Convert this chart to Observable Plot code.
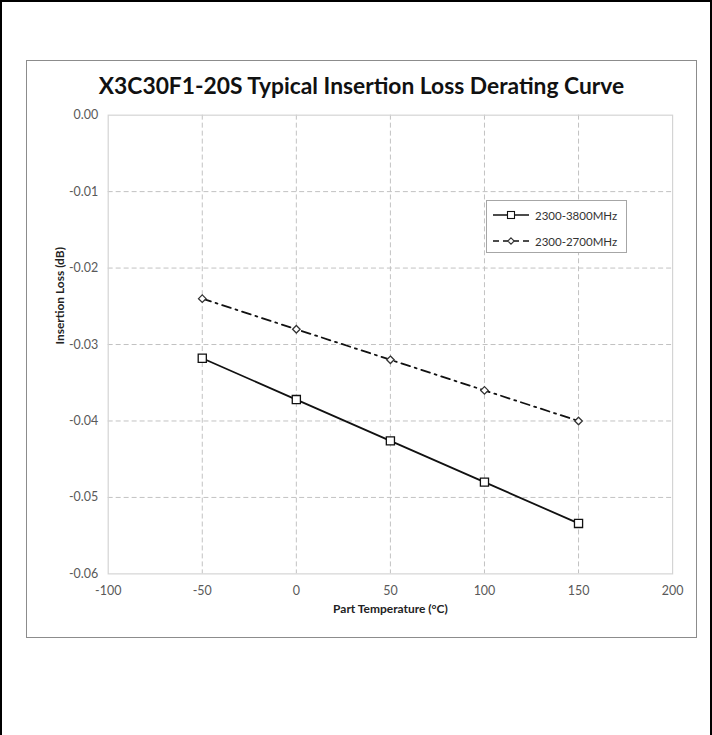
<!DOCTYPE html>
<html>
<head>
<meta charset="utf-8">
<script src="https://cdn.jsdelivr.net/npm/d3@7"></script>
<script src="https://cdn.jsdelivr.net/npm/@observablehq/plot@0.6"></script>
<style>
  html, body { margin: 0; padding: 0; background: #fff; }
  #page { position: relative; width: 712px; height: 735px; box-sizing: border-box;
          border-top: 2px solid #000; border-left: 2px solid #000; border-right: 2px solid #000; overflow: hidden; }
  #box { position: absolute; left: 24px; top: 58px; width: 671px; height: 578px; box-sizing: border-box;
         border: 1px solid #8c8c8c; }
  #title { position: absolute; left: 24px; width: 671px; top: 69px; text-align: center;
           font-family: Lato, "Open Sans", sans-serif; font-weight: 700; font-size: 22.8px; color: #111; }
  #chart { position: absolute; left: -2px; top: -2px; }
  #legend { position: absolute; left: 484px; top: 198px; width: 141px; height: 53px; box-sizing: border-box;
            border: 1px solid #a6a6a6; background: #fff; font-family: Lato, "Open Sans", sans-serif;
            font-size: 11.5px; color: #333; }
  .li { position: absolute; left: 4px; height: 16px; display: flex; align-items: center; }
  .li svg { margin-right: 4px; }
</style>
</head>
<body>
<div id="page">
  <div id="box"></div>
  <div id="title">X3C30F1-20S Typical Insertion Loss Derating Curve</div>
  <div id="chart"></div>
  <div id="legend"></div>
</div>
<script>
const temperatures = [-50, 0, 50, 100, 150];
const seriesNames = ["2300-3800MHz", "2300-2700MHz"];
const loss3800 = [-0.0318, -0.0372, -0.0426, -0.0480, -0.0534];
const loss2700 = [-0.0240, -0.0280, -0.0320, -0.0360, -0.0400];
const xTicks = [-100, -50, 0, 50, 100, 150, 200];
const yTicks = [0, -0.01, -0.02, -0.03, -0.04, -0.05, -0.06];
const xLabel = "Part Temperature (°C)";
const yLabel = "Insertion Loss (dB)";

const rows = [];
temperatures.forEach((t, i) => {
  rows.push({series: seriesNames[0], t, v: loss3800[i]});
  rows.push({series: seriesNames[1], t, v: loss2700[i]});
});
const s1 = rows.filter(d => d.series === seriesNames[0]);
const s2 = rows.filter(d => d.series === seriesNames[1]);

const font = "Lato, 'Open Sans', sans-serif";
const gridColor = "#c2c2c2";
const dash = "5,3";
const dashDot = "9,5,2,5";

const chart = Plot.plot({
  width: 712,
  height: 735,
  marginLeft: 108,
  marginRight: 38,
  marginTop: 115,
  marginBottom: 160,
  style: {fontFamily: font, fontSize: "12px", background: "transparent", overflow: "visible"},
  x: {domain: [-100, 200]},
  y: {domain: [-0.06, 0]},
  marks: [
    Plot.ruleX(xTicks.slice(1, -1), {stroke: gridColor, strokeDasharray: dash, strokeWidth: 1}),
    Plot.ruleY(yTicks.slice(1, -1), {stroke: gridColor, strokeDasharray: dash, strokeWidth: 1}),
    Plot.frame({stroke: "#d4d4d4", strokeWidth: 1.2}),
    Plot.axisX({ticks: xTicks, tickSize: 0, tickPadding: 12, tickFormat: d => String(d), label: null, fill: "#595959", fontSize: 12.5}),
    Plot.axisY({ticks: yTicks, tickSize: 0, tickPadding: 10, tickFormat: d => d.toFixed(2), label: null, fill: "#595959", fontSize: 12.5}),
    Plot.text([xLabel], {frameAnchor: "bottom", dy: 39, fontWeight: "bold", fontSize: 12, fill: "#222"}),
    Plot.text([yLabel], {frameAnchor: "left", dx: -48, rotate: -90, fontWeight: "bold", fontSize: 12, fill: "#222"}),
    Plot.line(s2, {x: "t", y: "v", stroke: "#111", strokeWidth: 1.8, strokeDasharray: dashDot}),
    Plot.line(s1, {x: "t", y: "v", stroke: "#111", strokeWidth: 1.8}),
    Plot.dot(s2, {x: "t", y: "v", symbol: "diamond2", r: 3.4, fill: "white", stroke: "#333", strokeWidth: 1.3}),
    Plot.dot(s1, {x: "t", y: "v", symbol: "square", r: 4.6, fill: "white", stroke: "#111", strokeWidth: 1.3})
  ]
});
document.getElementById("chart").appendChild(chart);

// legend
const legend = document.getElementById("legend");
const styles = [
  {dashArr: null, sym: "square"},
  {dashArr: "6,4", sym: "diamond"}
];
seriesNames.forEach((name, i) => {
  const item = document.createElement("div");
  item.className = "li";
  item.style.top = (6 + i * 26) + "px";
  const svg = d3.create("svg").attr("width", 40).attr("height", 16);
  const ln = svg.append("line").attr("x1", 2).attr("x2", 38).attr("y1", 8).attr("y2", 8)
    .attr("stroke", "#111").attr("stroke-width", 1.7);
  if (styles[i].dashArr) ln.attr("stroke-dasharray", styles[i].dashArr);
  if (styles[i].sym === "square") {
    svg.append("rect").attr("x", 16.5).attr("y", 4.5).attr("width", 7).attr("height", 7)
      .attr("fill", "white").attr("stroke", "#111").attr("stroke-width", 1.1);
  } else {
    svg.append("path").attr("d", "M20,4.8L23.2,8L20,11.2L16.8,8Z")
      .attr("fill", "white").attr("stroke", "#333").attr("stroke-width", 1.1);
  }
  item.appendChild(svg.node());
  const label = document.createElement("span");
  label.textContent = name;
  item.appendChild(label);
  legend.appendChild(item);
});
</script>
</body>
</html>
